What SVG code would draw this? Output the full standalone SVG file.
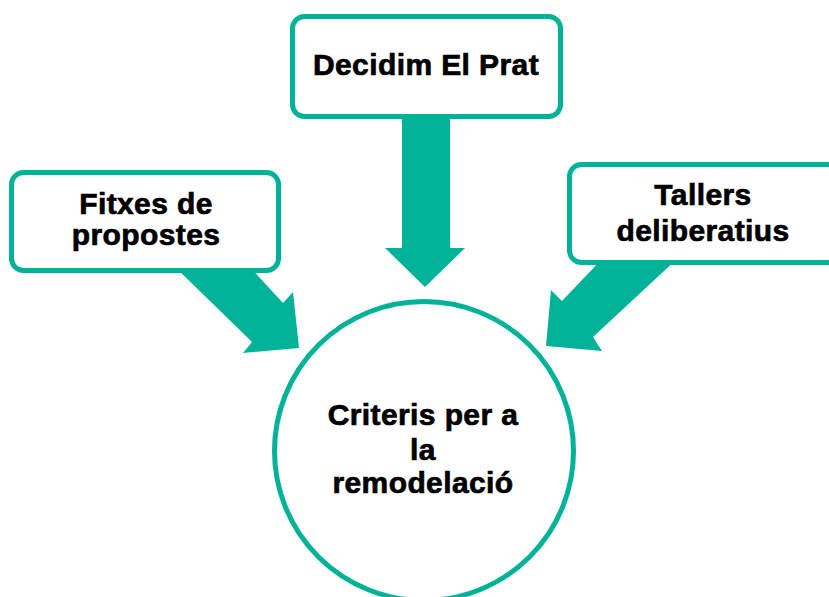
<svg xmlns="http://www.w3.org/2000/svg" width="829" height="597" viewBox="0 0 829 597">
<style>
.arrow{fill:#00B398;stroke:none}
.box{fill:#fff;stroke:#00B398;stroke-width:5}
.lbl{font-family:"Liberation Sans",Arial,sans-serif;font-weight:bold;font-size:30px;fill:#000;stroke:#000;stroke-width:0.7;letter-spacing:0.4px;text-anchor:middle}
</style>
<rect width="829" height="597" fill="#fff"/>
<g id="connectors">
<polygon class="arrow" points="402,110 450,110 450,248 465,248 425,287 385,248 402,248"/>
<polygon class="arrow" points="173,265 248,265 283,303 293,292 299,348 243,353 252,342"/>
<polygon class="arrow" points="603,258 678,258 593,337 602,351 546,346 551,290 562,301"/>
</g>
<g id="node-decidim">
<rect class="box" x="292.5" y="16.5" width="268" height="100" rx="12"/>
<text class="lbl" x="426" y="75">Decidim El Prat</text>
</g>
<g id="node-fitxes">
<rect class="box" x="11.5" y="172.5" width="267" height="98" rx="12"/>
<text class="lbl" x="146" y="214">Fitxes de</text>
<text class="lbl" x="146" y="245">propostes</text>
</g>
<g id="node-tallers">
<rect class="box" x="569.5" y="164.5" width="280" height="98" rx="12"/>
<text class="lbl" x="703" y="205">Tallers</text>
<text class="lbl" x="703" y="241">deliberatius</text>
</g>
<g id="node-criteris">
<circle cx="424" cy="451" r="149.5" fill="#fff" stroke="#00B398" stroke-width="5"/>
<text class="lbl" x="423" y="425">Criteris per a</text>
<text class="lbl" x="423" y="460">la</text>
<text class="lbl" x="423" y="493">remodelació</text>
</g>
</svg>
